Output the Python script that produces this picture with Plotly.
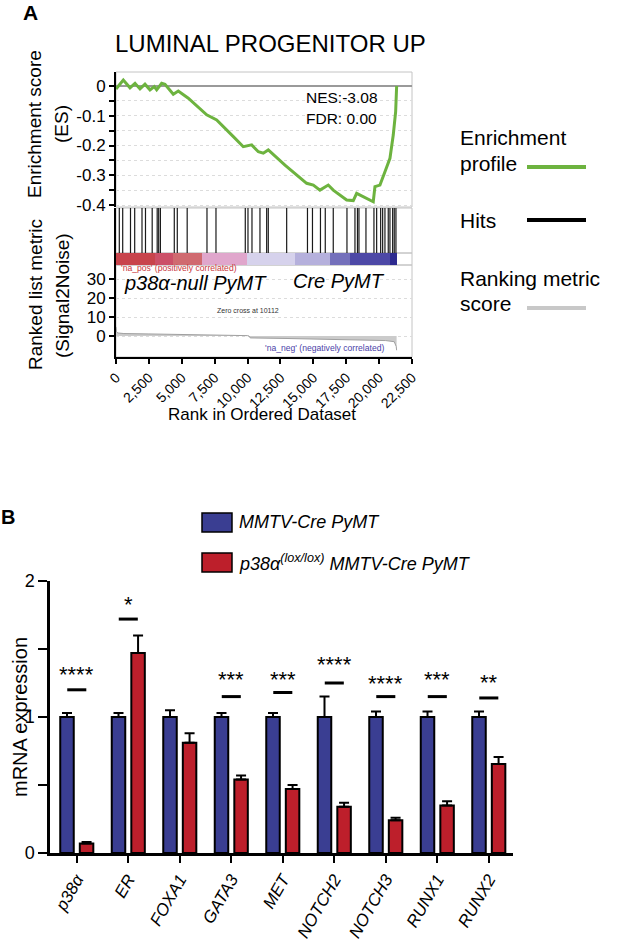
import plotly.graph_objects as go

W, H = 643, 940
def px(x):
    return x / W
def py(y):
    return 1 - y / H

FONT = "Liberation Sans, Arial, sans-serif"

# ---------------- Panel A data ----------------
es_rank = [0, 555, 1064, 1444, 1824, 2204, 2584, 2911, 3093, 3473, 3724, 4355, 4735, 5495,
           6893, 7653, 8920, 9675, 10313, 10820, 11195, 11575, 12844, 14493, 15000, 15504,
           16135, 16515, 17533, 18037, 18293, 18800, 19555, 19684, 20064, 20444, 20824,
           21075, 21257, 21333]
es_score = [-0.010, 0.020, -0.006, 0.009, -0.010, 0.006, -0.013, -0.002, -0.013, 0.009, 0.006,
            -0.028, -0.017, -0.041, -0.097, -0.114, -0.170, -0.204, -0.198, -0.221, -0.226,
            -0.215, -0.266, -0.327, -0.333, -0.350, -0.333, -0.350, -0.383, -0.385, -0.361,
            -0.372, -0.389, -0.338, -0.333, -0.288, -0.243, -0.165, -0.086, 0.0]

hit_ranks = [251, 509, 1102, 1421, 1976, 2242, 2751, 3131, 3245, 3374, 4431, 4659, 5411,
             6916, 7600, 9827, 10032, 10336, 10944, 11453, 11575, 12973, 14554, 14934,
             15542, 15907, 16515, 17556, 18164, 18354, 18468, 19000, 19608, 19813, 20117,
             20269, 20444, 20695, 20824, 21029, 21151, 21280]

metric_rank = [0, 40, 150, 600, 2500, 5000, 7500, 10000, 10112, 10200, 13000, 16000, 19000,
               20500, 21150, 21300, 21330]
metric_value = [4.8, 2.2, 1.6, 1.3, 1.1, 0.9, 0.6, 0.2, 0.0, -1.0, -1.3, -1.6, -2.0, -2.4,
                -3.0, -5.5, -7.5]

band_edges = [0, 2960, 4357, 6510, 9930, 13600, 16265, 17784, 20824, 21330]
band_colors = ['#c8444c', '#cc5068', '#d06a70', '#e0a6cc', '#d6d2ec', '#b5b0dc',
               '#7470bb', '#4d48a6', '#2d2a8f']

rank_ticks = [0, 2500, 5000, 7500, 10000, 12500, 15000, 17500, 20000, 22500]
es_ticks = [-0.4, -0.35, -0.3, -0.25, -0.2, -0.15, -0.1, -0.05, 0]
es_ticktext = ['-0.4', '', '-0.3', '', '-0.2', '', '-0.1', '', '0']
metric_ticks = [0, 10, 20, 30]

# ---------------- Panel B data ----------------
genes = ["p38α", "ER", "FOXA1", "GATA3", "MET", "NOTCH2", "NOTCH3", "RUNX1", "RUNX2"]
cre_mean = [1.0, 1.0, 1.0, 1.0, 1.0, 1.0, 1.0, 1.0, 1.0]
cre_err = [0.03, 0.03, 0.05, 0.03, 0.03, 0.15, 0.04, 0.04, 0.04]
ko_mean = [0.07, 1.47, 0.81, 0.54, 0.47, 0.34, 0.24, 0.35, 0.655]
ko_err = [0.01, 0.13, 0.07, 0.03, 0.03, 0.03, 0.02, 0.03, 0.05]
sig_labels = ["****", "*", "", "***", "***", "****", "****", "***", "**"]
sig_bar_y = [1.20, 1.72, None, 1.15, 1.18, 1.25, 1.15, 1.15, 1.14]
sig_star_y = [1.33, 1.84, None, 1.29, 1.29, 1.40, 1.26, 1.29, 1.27]

BLUE = "#3a3e92"
RED = "#bd1f2b"
GREEN = "#6db33f"

fig = go.Figure()

# ES curve
fig.add_trace(go.Scatter(x=es_rank, y=es_score, mode="lines", xaxis="x", yaxis="y",
                         line=dict(color=GREEN, width=3), showlegend=False, hoverinfo="skip"))

# hits
hx, hy = [], []
for r in hit_ranks:
    hx += [r, r, None]
    hy += [0, 1, None]
fig.add_trace(go.Scatter(x=hx, y=hy, mode="lines", xaxis="x", yaxis="y2",
                         line=dict(color="#1a1a1a", width=1.2), showlegend=False, hoverinfo="skip"))

# colour band
n = len(band_colors)
fig.add_trace(go.Heatmap(z=[list(range(n))], x=band_edges, y=[0, 1], xaxis="x", yaxis="y3",
                         colorscale=[[i / (n - 1), c] for i, c in enumerate(band_colors)],
                         zmin=0, zmax=n - 1, showscale=False, hoverinfo="skip"))

# ranking metric
fig.add_trace(go.Scatter(x=metric_rank, y=metric_value, mode="lines", fill="tozeroy",
                         xaxis="x", yaxis="y4", line=dict(color="#a0a0a0", width=1),
                         fillcolor="#cbcbcb", showlegend=False, hoverinfo="skip"))

# bars panel B
fig.add_trace(go.Bar(x=genes, y=cre_mean, xaxis="x2", yaxis="y5", name="MMTV-Cre PyMT",
                     marker=dict(color=BLUE, line=dict(color="black", width=2)),
                     error_y=dict(type="data", array=cre_err, arrayminus=[0] * len(genes),
                                  symmetric=False, color="black", thickness=2, width=5),
                     showlegend=False))
fig.add_trace(go.Bar(x=genes, y=ko_mean, xaxis="x2", yaxis="y5", name="p38a lox/lox",
                     marker=dict(color=RED, line=dict(color="black", width=2)),
                     error_y=dict(type="data", array=ko_err, arrayminus=[0] * len(genes),
                                  symmetric=False, color="black", thickness=2, width=5),
                     showlegend=False))

shapes = []
annotations = []

# frames for panel A (gray)
for ya in ["y", "y2", "y3", "y4"]:
    shapes.append(dict(type="rect", xref="x domain", yref=ya + " domain", x0=0, x1=1, y0=0, y1=1,
                       line=dict(color="#c4c4c4", width=1), layer="below"))

# significance bars
for i, lab in enumerate(sig_labels):
    if lab:
        shapes.append(dict(type="line", xref="x2", yref="y5", x0=i - 0.185, x1=i + 0.185,
                           y0=sig_bar_y[i], y1=sig_bar_y[i], line=dict(color="black", width=3)))
        annotations.append(dict(x=genes[i], y=sig_star_y[i], xref="x2", yref="y5", text=lab,
                                showarrow=False, yanchor="middle", yshift=-2,
                                font=dict(size=22, color="black", family=FONT)))

def txt(x, y, s, size, anchor="left", color="black", angle=0):
    annotations.append(dict(x=px(x), y=py(y), xref="paper", yref="paper", text=s,
                            showarrow=False, xanchor=anchor, yanchor="middle", textangle=angle,
                            font=dict(size=size, color=color, family=FONT)))

# panel labels
txt(31, 12, "<b>A</b>", 21, "center")
txt(8, 517, "<b>B</b>", 20, "center")

# panel A texts
txt(113, 44, "LUMINAL PROGENITOR UP", 24, "left")
txt(304, 98, "NES:-3.08", 15.5, "left")
txt(304, 118, "FDR: 0.00", 15.5, "left")
txt(35, 124, "Enrichment score", 19, "center", angle=-90)
txt(62, 124, "(ES)", 19, "center", angle=-90)
txt(35, 295, "Ranked list metric", 19, "center", angle=-90)
txt(62, 295, "(Signal2Noise)", 19, "center", angle=-90)
txt(119, 268, "'na_pos' (positively correlated)", 8.6, "left", color="#c8373d")
txt(263, 348, "'na_neg' (negatively correlated)", 8.6, "left", color="#4b3fa8")
txt(248, 310, "Zero cross at 10112", 7, "center", color="#333333")
txt(122, 283, "<i>p38α-null PyMT</i>", 20, "left")
txt(387, 281, "<i>Cre PyMT</i>", 20, "right")
txt(262, 414, "Rank in Ordered Dataset", 17, "center")

# panel A legend
txt(458, 137, "Enrichment", 21)
txt(458, 163, "profile", 21)
txt(458, 220, "Hits", 21)
txt(458, 279, "Ranking metric", 21)
txt(458, 303, "score", 21)
for yy, col in [(167, GREEN), (220, "black"), (308, "#c8c8c8")]:
    shapes.append(dict(type="line", xref="paper", yref="paper", x0=px(527), x1=px(586),
                       y0=py(yy), y1=py(yy), line=dict(color=col, width=4)))

# panel B legend
for (y0, y1), col in [((513, 532), BLUE), ((553, 572), RED)]:
    shapes.append(dict(type="rect", xref="paper", yref="paper", x0=px(202), x1=px(232),
                       y0=py(y1), y1=py(y0), fillcolor=col, line=dict(color="black", width=1.5)))
txt(237, 522, "<i>MMTV-Cre PyMT</i>", 18)
txt(237, 562, "<i>p38α<sup>(lox/lox)</sup> MMTV-Cre PyMT</i>", 18)
txt(20, 717, "mRNA expression", 20, "center", angle=-90)

axis_font = dict(family=FONT, size=17, color="black")

fig.update_layout(
    width=W, height=H, autosize=False,
    margin=dict(l=0, r=0, t=0, b=0, pad=0, autoexpand=False),
    paper_bgcolor="white", plot_bgcolor="white",
    font=dict(family=FONT, color="black"),
    barmode="group", bargap=0.24, bargroupgap=0.31,
    shapes=shapes, annotations=annotations,
    xaxis=dict(domain=[px(116), px(412)], range=[0, 22500], anchor="y4", automargin=False,
               tickvals=rank_ticks, ticktext=[f"{t:,}" for t in rank_ticks],
               tickangle=-45, tickfont=dict(family=FONT, size=14, color="black"),
               ticks="outside", ticklen=5, tickwidth=1.5, tickcolor="black",
               showline=True, linecolor="black", linewidth=2,
               showgrid=False, zeroline=False),
    yaxis=dict(domain=[py(207), py(72)], range=[-0.4067, 0.047], anchor="x", automargin=False,
               tickvals=es_ticks, ticktext=es_ticktext, tickfont=axis_font,
               ticks="outside", ticklen=5, tickwidth=1.5, tickcolor="black",
               showline=True, linecolor="black", linewidth=2,
               showgrid=True, gridcolor="#dcdcdc", griddash="dot", gridwidth=1,
               zeroline=True, zerolinecolor="#9a9a9a", zerolinewidth=1.5),
    yaxis2=dict(domain=[py(253), py(208)], range=[0, 1], anchor="x", automargin=False,
                showticklabels=False, ticks="", showgrid=False, zeroline=False,
                showline=True, linecolor="black", linewidth=2),
    yaxis3=dict(domain=[py(265), py(253)], range=[0, 1], anchor="x", automargin=False,
                showticklabels=False, ticks="", showgrid=False, zeroline=False,
                showline=True, linecolor="black", linewidth=2),
    yaxis4=dict(domain=[py(357), py(265)], range=[-11.05, 37.4], anchor="x", automargin=False,
                tickvals=metric_ticks, tickfont=axis_font,
                ticks="outside", ticklen=5, tickwidth=1.5, tickcolor="black",
                showline=True, linecolor="black", linewidth=2,
                showgrid=True, gridcolor="#dcdcdc", griddash="dot", gridwidth=1,
                zeroline=False),
    xaxis2=dict(domain=[px(50), px(513)], anchor="y5", type="category", automargin=False,
                range=[-0.52, 8.47], tickvals=genes, ticktext=[f"<i>{g}</i>" for g in genes],
                tickangle=-60, tickfont=dict(family=FONT, size=17, color="black"),
                ticks="outside", ticklen=7, tickwidth=2, tickcolor="black",
                showline=True, linecolor="black", linewidth=2.5, showgrid=False, zeroline=False),
    yaxis5=dict(domain=[py(853), py(581)], anchor="x2", range=[0, 2], automargin=False,
                tickvals=[0, 0.5, 1, 1.5, 2], ticktext=["0", "", "1", "", "2"],
                tickfont=dict(family=FONT, size=18, color="black"),
                ticks="outside", ticklen=9, tickwidth=2, tickcolor="black",
                showline=True, linecolor="black", linewidth=2.5, showgrid=False, zeroline=False),
)

fig.write_html("out.html", config={"displayModeBar": False},
               post_script="document.body.style.margin='0px';document.body.style.overflow='hidden';")
